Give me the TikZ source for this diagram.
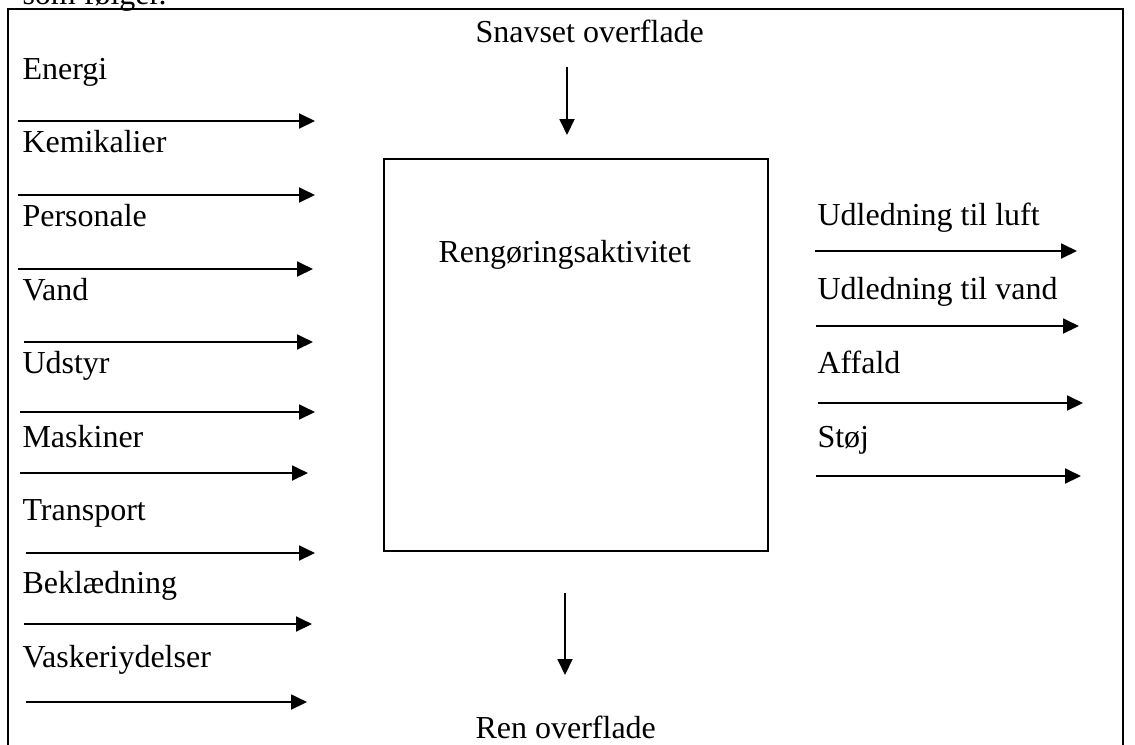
\documentclass[tikz,border=0pt]{standalone}
\usepackage{fontspec}
\setmainfont{Liberation Serif}
\usetikzlibrary{arrows.meta}

\tikzset{
  lbl/.style = {anchor = base west, inner sep = 0pt, font = \fontsize{12}{14}\selectfont},
  flow/.style = {line width = 0.8pt, -{Triangle[length = 6pt, width = 5.6pt]}},
  frame/.style = {line width = 1pt}
}

\begin{document}
\begin{tikzpicture}[x = 0.375pt, y = -0.375pt]
\useasboundingbox (0,0) rectangle (1135,744);

\draw[frame] (8,770)--(8,9)--(1123,9)--(1123,770);
\node[lbl] (intro) at (22,4) {som følger.};

\node[draw, line width = 0.8pt, minimum width = 384*0.375pt, minimum height = 392*0.375pt, anchor = north west, inner sep = 0pt] (box) at (383,158) {};
\node[lbl] (act) at (438,262) {Rengøringsaktivitet};

\node[lbl] (dirty) at (475,42) {Snavset overflade};
\coordinate (dirtys) at (567,67);
\coordinate (dirtye) at (567,135);
\draw[flow] (dirtys)--(dirtye);

\coordinate (cleans) at (565,593);
\coordinate (cleane) at (565,675);
\draw[flow] (cleans)--(cleane);
\node[lbl] (clean) at (475,738) {Ren overflade};

\foreach \i/\txt/\yb/\ya/\xa/\xb in {1/Energi/79/121/18/315, 2/Kemikalier/152/195/18/315, 3/Personale/226/269/18/313, 4/Vand/300/342/24/313, 5/Udstyr/373/412/20/315, 6/Maskiner/447/473/20/308, 7/Transport/520/553/26/315, 8/Beklædning/593/624/24/312, 9/Vaskeriydelser/667/702/26/307} {
	\node[lbl] (in\i) at (22,\yb) {\txt};
	\coordinate (ins\i) at (\xa,\ya);
	\coordinate (ine\i) at (\xb,\ya);
	\draw[flow] (ins\i)--(ine\i);
}

\foreach \i/\txt/\yb/\ya/\xa/\xb in {1/Udledning til luft/225/251/815/1077, 2/Udledning til vand/299/326/816/1079, 3/Affald/373/403/818/1083, 4/Støj/447/476/816/1081} {
	\node[lbl] (out\i) at (817,\yb) {\txt};
	\coordinate (outs\i) at (\xa,\ya);
	\coordinate (oute\i) at (\xb,\ya);
	\draw[flow] (outs\i)--(oute\i);
}
\end{tikzpicture}
\end{document}
